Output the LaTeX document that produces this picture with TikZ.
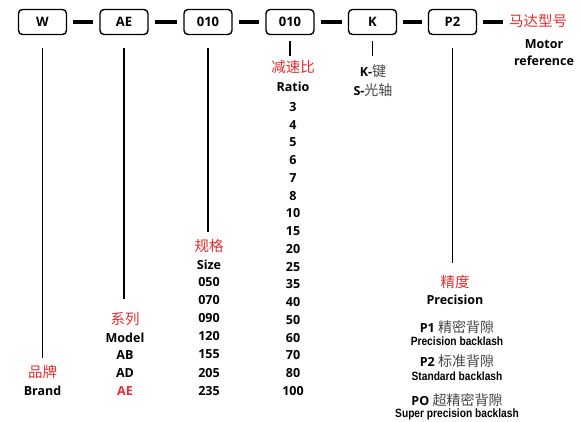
\documentclass[tikz,border=0pt]{standalone}
\usepackage{fontspec}
\setmainfont{Open Sans}
\newfontfamily\cjk{Noto Sans CJK SC}
\newfontfamily\narrowsans{Liberation Sans}
\definecolor{codered}{RGB}{225,45,45}
\definecolor{cngray}{RGB}{70,70,70}
\tikzset{
  codebox/.style={draw,line width=1.4pt,rounded corners=4pt,minimum width=48pt,minimum height=25pt,inner sep=0pt,font=\fontsize{13}{15}\selectfont\bfseries},
  dashbar/.style={line width=4.5pt,shorten <=6pt,shorten >=6pt},
  lead/.style={line width=1.6pt},
  lbl/.style={inner sep=0pt,text height=9pt,text depth=2.5pt,font=\fontsize{12.5}{14}\selectfont\bfseries},
  cn/.style={inner sep=0pt,text height=11pt,text depth=2pt,text=codered,font=\fontsize{14.5}{16}\selectfont\cjk},
  note/.style={inner sep=0pt,text height=9pt,text depth=2.5pt,font=\fontsize{12}{14}\selectfont\bfseries\narrowsans},
}
\newcommand{\cngray}[1]{{\color{cngray}\fontsize{14}{16}\selectfont\cjk\mdseries #1}}
\begin{document}
\begin{tikzpicture}[x=1pt,y=-1pt]
  \useasboundingbox (0,0) rectangle (580,421);
  % code boxes
  \node[codebox] (w) at (42.5,22) {W};
  \node[codebox] (ae) at (124,22) {AE};
  \node[codebox] (sz) at (208,22) {010};
  \node[codebox] (rt) at (290,22) {010};
  \node[codebox] (ky) at (372.5,22) {K};
  \node[codebox] (pr) at (452.5,22) {P2};
  \node[cn,anchor=west] (mada) at (509,22) {马达型号};
  \node[lbl] (motor) at (544,45) {Motor};
  \node[lbl] (mref) at (544,62) {reference};
  \draw[dashbar] (w) -- (ae);
  \draw[dashbar] (ae) -- (sz);
  \draw[dashbar] (sz) -- (rt);
  \draw[dashbar] (rt) -- (ky);
  \draw[dashbar] (ky) -- (pr);
  \draw[dashbar] (pr) -- (mada);
  % brand
  \node[cn] (pinpai) at (42.5,373) {品牌};
  \node[lbl] (brand) at (42.5,392) {Brand};
  % model
  \node[cn] (xilie) at (125,320) {系列};
  \node[lbl] (model) at (125,339) {Model};
  \node[lbl] (ab) at (125,356) {AB};
  \node[lbl] (ad) at (125,374) {AD};
  \node[lbl,text=codered] (aered) at (125,392) {AE};
  % size
  \node[cn] (guige) at (209,247) {规格};
  \node[lbl] (size) at (209,266) {Size};
  \foreach \s [count=\i] in {050,070,090,120,155,205,235}
    \node[lbl] (s\i) at (209,{283+18.17*(\i-1)}) {\s};
  % ratio
  \node[cn] (jsb) at (293,68) {减速比};
  \node[lbl] (ratio) at (293,88) {Ratio};
  \foreach \r [count=\i] in {3,4,5,6,7,8,10,15,20,25,35,40,50,60,70,80,100}
    \node[lbl] (r\i) at (293,{108+17.75*(\i-1)}) {\r};
  % shaft
  \node[lbl] (kjian) at (373,73) {K-\cngray{键}};
  \node[lbl] (sguang) at (373,92) {S-\cngray{光轴}};
  % precision
  \node[cn] (jingdu) at (455,283) {精度};
  \node[lbl] (precision) at (455,301) {Precision};
  \node[lbl] (p1) at (457,329) {P1 \cngray{精密背隙}};
  \node[note] (p1e) at (457,342) {\scalebox{0.85}[1]{Precision backlash}};
  \node[lbl] (p2) at (457,363) {P2 \cngray{标准背隙}};
  \node[note] (p2e) at (457,377) {\scalebox{0.85}[1]{Standard backlash}};
  \node[lbl] (po) at (457,402) {PO \cngray{超精密背隙}};
  \node[note] (poe) at (457,414) {\scalebox{0.85}[1]{Super precision backlash}};
  % leads
  \draw[lead,shorten <=13pt,shorten >=8pt] (w.south) -- (w.south |- pinpai.north);
  \draw[lead,shorten <=13pt,shorten >=14pt] (ae.south) -- (ae.south |- xilie.north);
  \draw[lead,shorten <=13pt,shorten >=8pt] (sz.south) -- (sz.south |- guige.north);
  \draw[lead,shorten <=6pt,shorten >=5pt] (rt.south) -- (rt.south |- jsb.north);
  \draw[lead,shorten <=6pt,shorten >=11pt] (ky.south) -- (ky.south |- kjian.north);
  \draw[lead,shorten <=13pt,shorten >=13pt] (pr.south) -- (pr.south |- jingdu.north);
\end{tikzpicture}
\end{document}
